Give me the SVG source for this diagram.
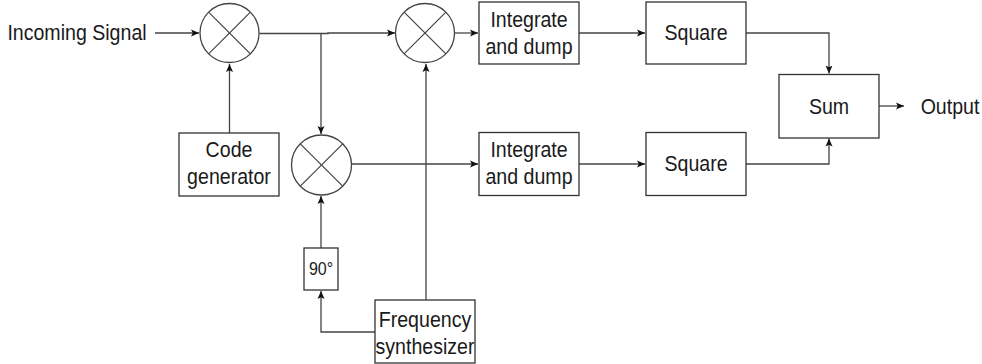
<svg xmlns="http://www.w3.org/2000/svg" width="982" height="364" viewBox="0 0 982 364">
<style>
.box{fill:#fff;stroke:#333;stroke-width:1.3}
.mix{fill:#fff;stroke:#444;stroke-width:1.3}
.xl{stroke:#444;stroke-width:1.2}
.t{font-family:"Liberation Sans",Arial,sans-serif;font-size:22px;fill:#1a1a1a;text-anchor:middle}
.ts{font-size:18px}
.ca{fill:none;stroke:#444;stroke-width:1.3;marker-end:url(#ah)}
</style>
<defs>
<marker id="ah" markerUnits="userSpaceOnUse" markerWidth="10" markerHeight="10" refX="8" refY="4" orient="auto">
<path d="M0,0.5 L8,4 L0,7.5 L1.8,4 Z" fill="#111"/>
</marker>
</defs>
<rect width="982" height="364" fill="#fff"/>
<g id="connectors">
<line class="ca" x1="155" y1="33" x2="199" y2="33"/>
<polyline class="ca" points="259.5,33.5 328,33.5 328,33 395,33"/>
<line class="ca" x1="321" y1="33.5" x2="321" y2="134"/>
<line class="ca" x1="455" y1="33" x2="478" y2="33"/>
<line class="ca" x1="579" y1="33" x2="645" y2="33"/>
<polyline class="ca" points="746,33 829,33 829,73.5"/>
<polyline class="ca" points="746,164 829,164 829,138.5"/>
<line class="ca" x1="879" y1="106" x2="904" y2="106"/>
<line class="ca" x1="229.5" y1="133" x2="229.5" y2="64"/>
<line class="ca" x1="352" y1="164" x2="478" y2="164"/>
<line class="ca" x1="579" y1="164" x2="645" y2="164"/>
<line class="ca" x1="426" y1="300" x2="426" y2="64"/>
<polyline class="ca" points="375,332 321,332 321,291"/>
<line class="ca" x1="321" y1="248" x2="321" y2="196"/>
</g>
<g id="incoming">
<text class="t" transform="translate(77,40) scale(0.89,1)">Incoming Signal</text>
</g>
<g id="mixer1">
<circle class="mix" cx="229.5" cy="33" r="29.5"/>
<line class="xl" x1="208.6" y1="12.1" x2="250.4" y2="53.9"/>
<line class="xl" x1="250.4" y1="12.1" x2="208.6" y2="53.9"/>
</g>
<g id="mixer2">
<circle class="mix" cx="425" cy="33" r="29.5"/>
<line class="xl" x1="404.1" y1="12.1" x2="445.9" y2="53.9"/>
<line class="xl" x1="445.9" y1="12.1" x2="404.1" y2="53.9"/>
</g>
<g id="mixer3">
<circle class="mix" cx="321.5" cy="165" r="30"/>
<line class="xl" x1="300.3" y1="143.8" x2="342.7" y2="186.2"/>
<line class="xl" x1="342.7" y1="143.8" x2="300.3" y2="186.2"/>
</g>
<g id="codegen">
<rect class="box" x="179" y="133" width="100" height="63"/>
<text class="t" transform="translate(229,157) scale(0.89,1)">Code</text>
<text class="t" transform="translate(229,184) scale(0.89,1)">generator</text>
</g>
<g id="integrate1">
<rect class="box" x="479" y="2" width="100" height="62"/>
<text class="t" transform="translate(529,27) scale(0.89,1)">Integrate</text>
<text class="t" transform="translate(529,54) scale(0.89,1)">and dump</text>
</g>
<g id="integrate2">
<rect class="box" x="479" y="132.5" width="100" height="63"/>
<text class="t" transform="translate(529,157) scale(0.89,1)">Integrate</text>
<text class="t" transform="translate(529,184) scale(0.89,1)">and dump</text>
</g>
<g id="square1">
<rect class="box" x="646" y="2" width="100" height="62"/>
<text class="t" transform="translate(696,40) scale(0.89,1)">Square</text>
</g>
<g id="square2">
<rect class="box" x="646" y="132.5" width="100" height="63"/>
<text class="t" transform="translate(696,171) scale(0.89,1)">Square</text>
</g>
<g id="sum">
<rect class="box" x="779" y="74.5" width="100" height="63.5"/>
<text class="t" transform="translate(829,114) scale(0.89,1)">Sum</text>
</g>
<g id="output">
<text class="t" transform="translate(950,114) scale(0.89,1)">Output</text>
</g>
<g id="phase90">
<rect class="box" x="304" y="248" width="34" height="42"/>
<text class="t ts" transform="translate(321,275) scale(0.89,1)">90°</text>
</g>
<g id="freqsynth">
<rect class="box" x="375" y="300" width="100" height="63"/>
<text class="t" transform="translate(425,327) scale(0.89,1)">Frequency</text>
<text class="t" transform="translate(425,354) scale(0.89,1)">synthesizer</text>
</g>
</svg>
